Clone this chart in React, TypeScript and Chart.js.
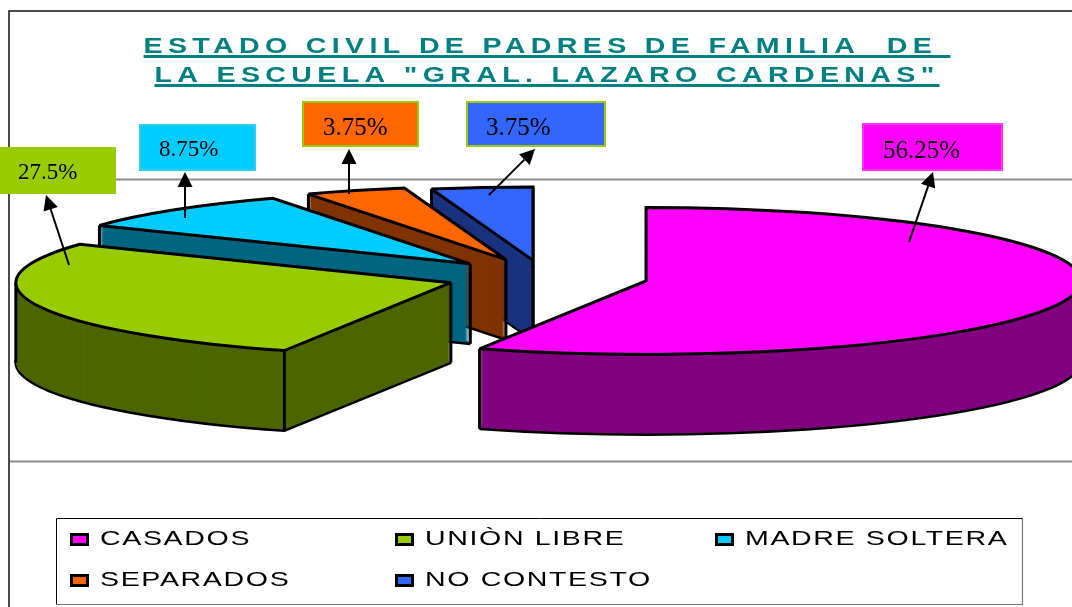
import React, { useEffect, useRef } from "react";
import { Chart, registerables } from "chart.js";

Chart.register(...registerables);

const titleLines = ['ESTADO CIVIL DE PADRES DE FAMILIA  DE ', 'LA ESCUELA "GRAL. LAZARO CARDENAS"'];
const categories = ["CASADOS", "UNIÒN LIBRE", "MADRE SOLTERA", "SEPARADOS", "NO CONTESTO"];
const values = [56.25, 27.5, 8.75, 3.75, 3.75];
const topColors = ["#ff00ff", "#99cc00", "#00ccff", "#ff6600", "#3366ff"];
const sideColors = ["#800080", "#4d6600", "#006680", "#803300", "#1a3380"];
const labelBorders = ["#ff33ff", "#99cc00", "#33ccee", "#99cc00", "#99cc00"];
const labelFontSizes = [25, 23, 23, 25, 25];
const explode = [103, 99, 110, 113, 102];

const PIE = { cx: 545, cy: 277.5, radius: 435, tilt: 73.5 / 435, depth: 80 };
const TITLE = { stretch: 1.3, spacing: "4.1px" };
// label box [x, y, w, h], text [x, baseline], arrow [x0, y0, x1, y1]
const labelBoxes = [
  [862, 123, 141, 48],
  [-2, 147, 118, 47],
  [139, 124, 117, 47],
  [302, 101, 117, 46],
  [466, 101, 140, 46],
];
const labelText = [
  [883, 158],
  [18, 179],
  [159, 156],
  [323, 135],
  [486, 135],
];
const labelArrows = [
  [909, 242, 933, 172],
  [69, 265, 46, 195],
  [185, 218, 185, 172],
  [349, 194, 349, 149],
  [489, 195, 535, 149],
];
const legendPos = [
  [70, 533],
  [395, 533],
  [715, 533],
  [70, 574],
  [395, 574],
];

function arrow(ctx: CanvasRenderingContext2D, a: number[]) {
  const [x0, y0, x1, y1] = a;
  const ang = Math.atan2(y1 - y0, x1 - x0);
  const len = 15;
  const hw = 7.5;
  const bx = x1 - Math.cos(ang) * len;
  const by = y1 - Math.sin(ang) * len;
  ctx.strokeStyle = "#000";
  ctx.fillStyle = "#000";
  ctx.lineWidth = 2;
  ctx.beginPath();
  ctx.moveTo(x0, y0);
  ctx.lineTo(bx, by);
  ctx.stroke();
  ctx.beginPath();
  ctx.moveTo(x1, y1);
  ctx.lineTo(bx - Math.sin(ang) * hw, by + Math.cos(ang) * hw);
  ctx.lineTo(bx + Math.sin(ang) * hw, by - Math.cos(ang) * hw);
  ctx.closePath();
  ctx.fill();
}

const pie3d = {
  id: "pie3d",
  beforeDraw(chart: any) {
    const ctx = chart.ctx;
    ctx.fillStyle = "#fff";
    ctx.fillRect(0, 0, chart.width, chart.height);
    const tb = chart.titleBlock;
    const tc = (tb.left + tb.right) / 2;
    ctx.save();
    ctx.translate(tc, 0);
    ctx.scale(TITLE.stretch, 1);
    ctx.translate(-tc, 0);
    ctx.letterSpacing = TITLE.spacing;
  },
  beforeDatasetsDraw(chart: any) {
    const ctx: CanvasRenderingContext2D = chart.ctx;
    ctx.letterSpacing = "0px";
    ctx.restore();
    ctx.save();
    // frame and plot-area lines
    ctx.strokeStyle = "#111";
    ctx.lineWidth = 1.5;
    ctx.beginPath();
    ctx.moveTo(9, 607);
    ctx.lineTo(9, 11);
    ctx.lineTo(1072, 11);
    ctx.stroke();
    ctx.strokeStyle = "#8c8c8c";
    ctx.lineWidth = 2.2;
    ctx.beginPath();
    ctx.moveTo(10, 179.5);
    ctx.lineTo(1072, 179.5);
    ctx.moveTo(10, 461.5);
    ctx.lineTo(1072, 461.5);
    ctx.stroke();

    const arcs = chart.getDatasetMeta(0).data;
    const flat = (arc: any, i: number, dy: number) => {
      const mid = (arc.startAngle + arc.endAngle) / 2;
      ctx.setTransform(1, 0, 0, 1, 0, 0);
      ctx.translate(PIE.cx, PIE.cy + dy);
      ctx.scale(1, PIE.tilt);
      ctx.translate(Math.cos(mid) * explode[i], Math.sin(mid) * explode[i]);
      ctx.translate(-arc.x, -arc.y);
    };
    const outline = (arc: any, i: number, dy: number) => {
      ctx.save();
      flat(arc, i, dy);
      ctx.beginPath();
      ctx.moveTo(arc.x, arc.y);
      ctx.arc(arc.x, arc.y, arc.outerRadius, arc.startAngle, arc.endAngle);
      ctx.closePath();
      ctx.restore();
      ctx.strokeStyle = "#000";
      ctx.lineWidth = 3;
      ctx.lineJoin = "miter";
      ctx.miterLimit = 2;
      ctx.stroke();
    };
    const screenPoint = (arc: any, i: number, a: number | null) => {
      const mid = (arc.startAngle + arc.endAngle) / 2;
      const r = a === null ? 0 : arc.outerRadius;
      const t = a === null ? 0 : a;
      return [
        PIE.cx + Math.cos(mid) * explode[i] + Math.cos(t) * r,
        PIE.cy + (Math.sin(mid) * explode[i] + Math.sin(t) * r) * PIE.tilt,
      ];
    };
    // painter's order: back slices first
    for (let i = arcs.length - 1; i >= 0; i--) {
      const arc = arcs[i];
      const base = arc.options;
      arc.options = { ...base, backgroundColor: sideColors[i], borderWidth: 0 };
      for (let dy = PIE.depth; dy >= 1; dy--) {
        ctx.save();
        flat(arc, i, dy);
        arc.draw(ctx);
        ctx.restore();
        if (dy === PIE.depth) outline(arc, i, dy);
      }
      // silhouette vertical edges only: extreme left/right corners and front rim corners
      const angles: (number | null)[] = [null, arc.startAngle, arc.endAngle];
      for (const ext of [0, Math.PI, -Math.PI, 2 * Math.PI]) {
        if (ext > arc.startAngle && ext < arc.endAngle) angles.push(ext);
      }
      const pts = angles.map((a) => ({ a, p: screenPoint(arc, i, a) }));
      const minX = Math.min(...pts.map((q) => q.p[0]));
      const maxX = Math.max(...pts.map((q) => q.p[0]));
      ctx.setTransform(1, 0, 0, 1, 0, 0);
      ctx.strokeStyle = "#000";
      ctx.lineWidth = 3;
      for (const q of pts) {
        const [px, py] = q.p;
        const extreme = Math.abs(px - minX) < 0.5 || Math.abs(px - maxX) < 0.5;
        const frontRim = q.a !== null && Math.sin(q.a) > 0;
        if (!extreme && !frontRim) continue;
        ctx.beginPath();
        ctx.moveTo(px, py);
        ctx.lineTo(px, py + PIE.depth);
        ctx.stroke();
      }
      arc.options = { ...base, backgroundColor: topColors[i], borderWidth: 0 };
      ctx.save();
      flat(arc, i, 0);
      arc.draw(ctx);
      ctx.restore();
      outline(arc, i, 0);
      arc.options = base;
    }
    ctx.restore();
    return false;
  },
  afterDraw(chart: any) {
    const ctx: CanvasRenderingContext2D = chart.ctx;
    ctx.save();
    ctx.setTransform(1, 0, 0, 1, 0, 0);

    // title underlines
    const tb = chart.titleBlock;
    const tc = (tb.left + tb.right) / 2;
    ctx.font = "bold 22px 'Liberation Sans'";
    ctx.letterSpacing = TITLE.spacing;
    ctx.fillStyle = "#008080";
    titleLines.forEach((line, i) => {
      const w = ctx.measureText(line).width * TITLE.stretch;
      ctx.fillRect(tc - w / 2, i === 0 ? 55 : 84, w, 3);
    });
    ctx.letterSpacing = "0px";

    // data labels
    values.forEach((v, i) => {
      const [x, y, w, h] = labelBoxes[i];
      ctx.fillStyle = topColors[i];
      ctx.fillRect(x, y, w, h);
      ctx.strokeStyle = labelBorders[i];
      ctx.lineWidth = 2;
      ctx.strokeRect(x + 1, y + 1, w - 2, h - 2);
      ctx.fillStyle = "#000";
      ctx.font = `${labelFontSizes[i]}px 'Liberation Serif'`;
      ctx.textAlign = "left";
      ctx.textBaseline = "alphabetic";
      ctx.fillText(`${v}%`, labelText[i][0], labelText[i][1]);
      arrow(ctx, labelArrows[i]);
    });

    // legend
    ctx.fillStyle = "#fff";
    ctx.fillRect(56, 518, 966, 86);
    ctx.strokeStyle = "#000";
    ctx.lineWidth = 1;
    ctx.beginPath();
    ctx.moveTo(56.5, 604.5);
    ctx.lineTo(56.5, 518.5);
    ctx.lineTo(1022.5, 518.5);
    ctx.stroke();
    ctx.strokeStyle = "#777";
    ctx.lineWidth = 1.2;
    ctx.beginPath();
    ctx.moveTo(1022.5, 518.5);
    ctx.lineTo(1022.5, 604.5);
    ctx.lineTo(56.5, 604.5);
    ctx.stroke();
    categories.forEach((c, i) => {
      const [x, y] = legendPos[i];
      ctx.fillStyle = topColors[i];
      ctx.fillRect(x + 1.5, y + 1.5, 16, 10);
      ctx.strokeStyle = "#000";
      ctx.lineWidth = 3;
      ctx.strokeRect(x + 1.5, y + 1.5, 16, 10);
      ctx.save();
      ctx.translate(x + 30, y + 12);
      ctx.scale(1.36, 1);
      ctx.font = "21px 'Liberation Sans'";
      ctx.letterSpacing = "1.2px";
      ctx.fillStyle = "#000";
      ctx.textAlign = "left";
      ctx.textBaseline = "alphabetic";
      ctx.fillText(c, 0, 0);
      ctx.restore();
    });
    ctx.restore();
  },
};

export default function App() {
  const ref = useRef<HTMLCanvasElement>(null);
  useEffect(() => {
    document.body.style.margin = "0";
    const chart = new Chart(ref.current as HTMLCanvasElement, {
      type: "pie",
      data: {
        labels: categories,
        datasets: [{ data: values, backgroundColor: topColors, borderWidth: 0 }],
      },
      options: {
        animation: false,
        responsive: false,
        events: [],
        radius: PIE.radius,
        layout: { padding: { left: 30, right: 8, top: 0, bottom: 0 } },
        plugins: {
          legend: { display: false },
          tooltip: { enabled: false },
          title: {
            display: true,
            text: titleLines,
            color: "#008080",
            font: { family: "'Liberation Sans'", size: 22, weight: "bold", lineHeight: 29 / 22 },
            padding: { top: 32, bottom: 0 },
          },
        },
      } as any,
      plugins: [pie3d as any],
    });
    return () => chart.destroy();
  }, []);
  return (
    <canvas
      ref={ref}
      width={1072}
      height={607}
      style={{ display: "block", position: "absolute", left: 0, top: 0 }}
    />
  );
}
